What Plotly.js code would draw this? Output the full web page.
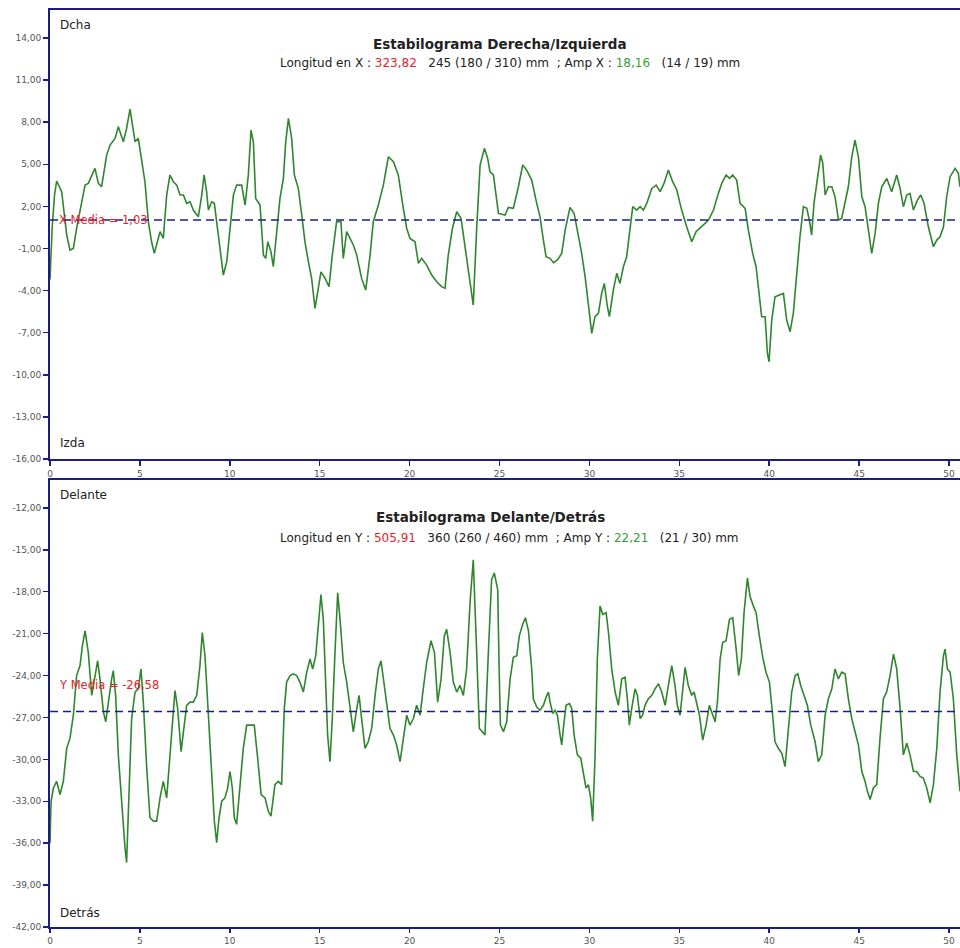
<!DOCTYPE html>
<html>
<head>
<meta charset="utf-8">
<script src="https://cdn.plot.ly/plotly-3.0.1.min.js"></script>
<style>
  html, body { margin: 0; padding: 0; background: #fff; }
  #chart { width: 960px; height: 948px; }
</style>
</head>
<body>
<div id="chart"></div>
<script>
// Stabilogram: lateral (X) and antero-posterior (Y) sway of the centre of pressure over time (s)

// X series (Derecha / Izquierda), mm
const tX = [
  0,0.12,0.25,0.37,0.65,0.93,1.11,1.30,1.48,1.67,
  1.95,2.13,2.32,2.50,2.69,2.87,3.15,3.34,3.62,3.80,
  4.08,4.26,4.45,4.64,4.73,4.91,5.10,5.28,5.47,5.65,
  5.80,5.93,6.12,6.30,6.49,6.67,6.86,7.05,7.23,7.42,
  7.60,7.79,7.97,8.25,8.44,8.57,8.71,8.81,8.99,9.14,
  9.27,9.46,9.64,9.83,10.01,10.20,10.38,10.66,10.85,11.03,
  11.18,11.31,11.44,11.68,11.87,12.00,12.11,12.29,12.42,12.61,
  12.79,12.98,13.11,13.26,13.44,13.59,13.81,14.00,14.18,14.37,
  14.55,14.74,14.92,15.07,15.30,15.52,15.70,15.94,16.18,16.31,
  16.50,16.69,16.87,17.06,17.33,17.56,17.80,17.98,18.26,18.54,
  18.82,19.10,19.37,19.65,19.84,20.02,20.30,20.49,20.67,20.95,
  21.23,21.51,21.78,21.97,22.15,22.38,22.62,22.86,23.04,23.23,
  23.54,23.73,23.92,24.16,24.34,24.47,24.66,24.94,25.21,
  25.31,25.49,25.77,26.05,26.29,26.51,26.79,27.07,27.25,27.44,
  27.59,27.81,28.00,28.22,28.46,28.65,28.92,29.15,29.33,29.57,
  29.76,29.94,30.13,30.31,30.50,30.68,30.83,31.00,31.11,31.33,
  31.52,31.70,31.89,32.07,32.26,32.41,32.63,32.82,33.00,33.19,
  33.47,33.71,33.93,34.15,34.39,34.63,34.86,35.13,35.41,35.69,
  35.93,36.15,36.43,36.62,36.90,37.17,37.36,37.60,37.79,37.97,
  38.19,38.38,38.66,38.84,39.08,39.27,39.45,39.58,39.77,39.90,
  39.99,40.14,40.32,40.60,40.79,40.97,41.16,41.34,41.53,41.71,
  41.90,42.09,42.23,42.36,42.49,42.68,42.86,42.98,43.11,43.29,
  43.48,43.66,43.85,44.03,44.22,44.40,44.59,44.77,44.96,45.15,
  45.33,45.52,45.70,45.89,46.07,46.26,46.54,46.81,47.09,47.28,
  47.46,47.65,47.83,48.02,48.24,48.43,48.61,48.85,49.13,49.32,
  49.50,49.69,49.87,50.06,50.34,50.52,50.61
];
const posX = [
  -3.2,0.5,2.8,3.81,3.05,-0.04,-1.11,-0.99,0.43,1.74,
  3.52,3.64,4.24,4.71,3.64,3.40,5.66,6.37,6.85,7.68,
  6.61,7.56,8.94,7.56,6.61,6.85,5.42,3.76,0.91,-0.52,
  -1.35,-0.75,0.20,-0.28,2.81,4.24,3.76,3.52,2.81,2.81,
  2.22,2.33,1.74,1.27,2.81,4.24,3.05,1.74,2.33,2.22,
  0.91,-0.99,-2.89,-1.94,0.43,2.81,3.52,3.52,2.10,4.24,
  7.44,6.61,2.57,2.10,-1.47,-1.70,-0.52,-1.23,-2.30,0.43,
  2.57,4.00,6.61,8.27,6.85,4.24,3.29,1.39,-0.52,-1.94,
  -3.13,-5.27,-3.84,-2.66,-3.13,-3.72,-1.47,0.91,0.91,-1.70,
  0.20,-0.28,-0.75,-1.47,-3.13,-3.96,-1.47,0.91,2.10,3.52,
  5.54,5.19,4.24,1.86,0.43,-0.28,-0.52,-2.06,-1.70,-2.18,
  -2.89,-3.37,-3.72,-3.84,-1.47,0.43,1.62,1.15,-0.52,-2.42,
  -5.03,0.43,4.95,6.14,5.42,4.47,4.24,1.50,1.39,
  1.38,1.93,1.86,3.40,4.95,4.59,3.88,2.22,1.27,-0.40,
  -1.59,-1.70,-2.01,-1.82,-1.35,0.31,1.93,1.50,0.31,-1.35,
  -3.01,-5.15,-7.05,-5.86,-5.62,-4.20,-3.49,-5.15,-5.86,-3.96,
  -2.77,-3.49,-2.30,-1.59,0.31,1.98,1.74,1.98,1.74,2.22,
  3.28,3.52,3.05,3.64,4.59,3.76,3.17,1.74,0.55,-0.52,
  0.20,0.43,0.79,1.03,1.74,2.93,3.64,4.24,4.00,4.24,
  3.88,2.22,1.86,0.31,-1.35,-2.30,-4.20,-5.86,-5.86,-8.48,
  -9.07,-6.10,-4.44,-4.32,-4.20,-6.10,-6.93,-5.62,-2.77,-0.16,
  1.98,1.86,1.03,-0.04,2.22,4.12,5.66,5.07,2.81,3.40,
  3.40,2.69,1.03,1.15,2.22,3.40,5.54,6.73,5.54,2.69,
  1.98,0.31,-1.35,0.08,2.22,3.40,3.99,3.05,4.24,3.28,
  1.98,2.81,2.93,1.74,2.45,2.81,2.22,0.55,-0.87,-0.40,
  -0.16,0.55,2.69,4.12,4.71,4.36,3.40
];

// Y series (Delante / Detrás), mm
const tY = [
  0,0.06,0.19,0.37,0.56,0.74,0.93,1.11,1.30,1.48,
  1.67,1.80,1.95,2.13,2.32,2.47,2.65,2.78,2.97,3.10,
  3.24,3.43,3.52,3.65,3.80,3.99,4.17,4.26,4.39,4.54,
  4.73,4.91,5.06,5.19,5.38,5.56,5.75,5.93,6.12,6.30,
  6.49,6.67,6.86,6.95,7.10,7.29,7.42,7.60,7.79,7.97,
  8.16,8.34,8.47,8.62,8.81,8.99,9.14,9.27,9.40,9.55,
  9.73,9.88,10.01,10.14,10.25,10.38,10.57,10.75,10.94,11.22,
  11.36,11.55,11.74,11.96,12.14,12.29,12.51,12.70,12.88,13.03,
  13.16,13.35,13.53,13.72,13.90,14.09,14.28,14.46,14.61,14.78,
  14.92,15.07,15.20,15.33,15.44,15.57,15.70,15.85,16.00,16.13,
  16.31,16.50,16.69,16.87,17.06,17.19,17.33,17.52,17.70,17.89,
  18.08,18.26,18.41,18.54,18.73,18.91,19.10,19.28,19.47,19.65,
  19.84,20.02,20.21,20.39,20.58,20.76,20.95,21.19,21.38,21.56,
  21.75,21.93,22.06,22.25,22.43,22.62,22.80,22.99,23.17,23.36,
  23.54,23.73,23.88,24.05,24.19,24.38,24.56,24.71,24.90,24.98,
  25.05,25.22,25.40,25.59,25.77,25.96,26.10,26.29,26.44,26.61,
  26.79,26.88,27.07,27.25,27.44,27.63,27.72,27.81,27.96,28.09,
  28.22,28.37,28.46,28.59,28.70,28.89,29.02,29.15,29.33,29.52,
  29.66,29.81,29.94,30.07,30.18,30.31,30.44,30.59,30.74,30.93,
  31.06,31.24,31.43,31.61,31.80,31.98,32.11,32.22,32.35,32.54,
  32.67,32.82,32.96,33.09,33.28,33.47,33.65,33.84,34.02,34.21,
  34.39,34.58,34.76,34.89,35.04,35.19,35.32,35.50,35.69,35.82,
  35.97,36.12,36.30,36.49,36.67,36.86,36.99,37.12,37.27,37.41,
  37.60,37.79,37.97,38.16,38.30,38.45,38.60,38.79,38.93,39.12,
  39.27,39.45,39.64,39.82,40.01,40.19,40.32,40.51,40.70,40.88,
  41.07,41.25,41.44,41.59,41.75,41.94,42.12,42.31,42.55,42.73,
  42.92,43.11,43.29,43.48,43.66,43.85,44.03,44.22,44.40,44.59,
  44.77,44.96,45.15,45.33,45.46,45.61,45.79,45.98,46.16,46.35,
  46.53,46.72,46.91,47.09,47.28,47.46,47.65,47.83,48.02,48.20,
  48.39,48.57,48.76,48.95,49.13,49.32,49.50,49.69,49.78,49.91,
  50.06,50.24,50.43,50.61
];
const posY = [
  -36.0,-33.00,-32.05,-31.58,-32.52,-31.58,-29.21,-28.50,-26.84,-24.00,
  -23.29,-21.87,-20.80,-22.34,-25.42,-24.24,-22.94,-24.24,-26.60,-27.31,
  -25.90,-24.24,-23.65,-25.42,-29.68,-33.47,-36.31,-37.38,-32.99,-27.08,
  -25.18,-24.95,-23.53,-25.90,-30.63,-34.18,-34.42,-34.42,-32.76,-31.58,
  -32.76,-29.68,-25.90,-25.07,-26.37,-29.45,-28.03,-26.13,-25.90,-25.90,
  -25.42,-23.29,-20.92,-22.58,-26.84,-31.10,-34.42,-35.96,-34.18,-32.99,
  -32.76,-32.05,-30.87,-32.05,-34.18,-34.65,-31.81,-29.21,-27.55,-27.55,
  -27.55,-29.92,-32.52,-32.76,-33.71,-34.06,-31.81,-31.58,-31.81,-26.37,
  -24.47,-24.00,-23.88,-24.00,-24.47,-25.18,-23.76,-22.82,-23.53,-22.58,
  -20.45,-18.20,-19.98,-24.71,-28.26,-30.16,-27.08,-22.34,-18.08,-19.98,
  -23.05,-24.47,-26.13,-28.03,-26.37,-25.42,-27.08,-29.21,-28.74,-27.79,
  -25.42,-23.53,-22.94,-24.24,-26.37,-27.79,-28.26,-28.97,-30.16,-28.50,
  -26.84,-27.55,-27.08,-26.13,-26.84,-24.95,-23.05,-21.51,-22.34,-25.90,
  -24.24,-21.16,-20.69,-22.34,-24.47,-25.18,-24.71,-25.42,-23.53,-18.79,
  -15.71,-22.34,-27.79,-28.03,-28.26,-22.34,-17.14,-16.66,-17.85,-23.53,
  -27.55,-28.02,-27.31,-24.24,-22.70,-22.58,-21.16,-20.33,-19.86,-20.80,
  -23.53,-25.66,-26.25,-26.49,-26.13,-25.42,-25.18,-25.89,-26.72,-26.49,
  -26.84,-28.26,-28.97,-27.31,-26.13,-26.01,-26.37,-28.26,-29.68,-29.92,
  -31.10,-32.05,-31.81,-32.76,-34.42,-29.92,-22.82,-19.03,-19.62,-19.50,
  -20.92,-23.53,-25.18,-26.13,-24.24,-24.12,-25.66,-27.55,-26.37,-24.95,
  -25.42,-27.08,-26.84,-26.13,-25.66,-25.42,-24.95,-24.59,-25.18,-26.13,
  -24.71,-23.29,-24.71,-26.13,-26.84,-24.71,-23.41,-24.71,-25.42,-25.18,
  -26.13,-26.84,-28.62,-27.55,-26.13,-26.84,-27.31,-25.89,-22.82,-21.63,
  -21.51,-19.98,-19.86,-22.11,-24.00,-22.82,-19.50,-17.02,-18.32,-19.03,
  -19.50,-21.16,-22.70,-23.76,-24.47,-26.84,-28.74,-29.21,-29.56,-30.51,
  -27.55,-25.18,-24.00,-23.88,-24.71,-25.42,-26.13,-27.55,-28.74,-30.16,
  -29.68,-26.84,-25.66,-24.95,-23.53,-24.24,-23.76,-23.88,-25.66,-27.08,
  -28.02,-28.97,-30.87,-31.58,-32.29,-32.88,-32.05,-31.81,-28.50,-25.66,
  -25.18,-24.00,-22.46,-23.53,-26.37,-29.68,-28.85,-29.68,-30.87,-30.87,
  -31.22,-31.34,-32.05,-33.11,-31.81,-29.21,-25.18,-22.58,-22.11,-23.53,
  -23.76,-25.66,-29.68,-32.29
];

// Mean positions
const xMedia = 1.03;
const yMedia = -26.58;

// Axis ticks
const timeTicks = [0, 5, 10, 15, 20, 25, 30, 35, 40, 45, 50];
const xPosTicks = [-16, -13, -10, -7, -4, -1, 2, 5, 8, 11, 14];
const yPosTicks = [-42, -39, -36, -33, -30, -27, -24, -21, -18, -15, -12];

// Summary texts
const xSummary = { longitud: '323,82', ref: '245 (180 / 310) mm', amp: '18,16', ampRef: '(14 / 19) mm' };
const ySummary = { longitud: '505,91', ref: '360 (260 / 460) mm', amp: '22,21', ampRef: '(21 / 30) mm' };

if (tX.length !== posX.length || tY.length !== posY.length) {
  console.warn('series length mismatch', tX.length, posX.length, tY.length, posY.length);
}

const fmt = v => v.toFixed(2).replace('.', ',');
const tMax = 50.61;

const NAVY = '#1c1c86';
const GREEN = '#2f862f';
const RED = '#e3242b';
const NB = '\u00a0';

const axisBase = {
  showline: true, linecolor: NAVY, linewidth: 2,
  ticks: 'outside', ticklen: 5, tickwidth: 1.5, tickcolor: NAVY,
  showgrid: false, zeroline: false, fixedrange: true,
  tickfont: { family: 'DejaVu Sans, sans-serif', size: 9, color: '#555' }
};

const traces = [
  { x: tX, y: posX, xaxis: 'x', yaxis: 'y', type: 'scatter', mode: 'lines',
    line: { color: GREEN, width: 1.6 }, hoverinfo: 'skip' },
  { x: [0, tMax], y: [xMedia, xMedia], xaxis: 'x', yaxis: 'y', type: 'scatter', mode: 'lines',
    line: { color: NAVY, width: 1.5, dash: '8px,5px' }, hoverinfo: 'skip' },
  { x: tY, y: posY, xaxis: 'x2', yaxis: 'y2', type: 'scatter', mode: 'lines',
    line: { color: GREEN, width: 1.6 }, hoverinfo: 'skip' },
  { x: [0, tMax], y: [yMedia, yMedia], xaxis: 'x2', yaxis: 'y2', type: 'scatter', mode: 'lines',
    line: { color: NAVY, width: 1.5, dash: '8px,5px' }, hoverinfo: 'skip' }
];

function summary(axisName, s) {
  return 'Longitud en ' + axisName + ' : <span style="color:' + RED + '">' + s.longitud + '</span>' +
    NB + NB + NB + s.ref + NB + NB + '; Amp ' + axisName + ' : <span style="color:#35a035">' + s.amp + '</span>' +
    NB + NB + NB + s.ampRef;
}

const txt = (text, x, y, size, extra) => Object.assign({
  text: text, xref: 'paper', yref: 'paper', x: x, y: y, showarrow: false,
  xanchor: 'left', yanchor: 'middle',
  font: { family: 'DejaVu Sans, sans-serif', size: size, color: '#222' }
}, extra || {});

const annotations = [
  txt('<b>Estabilograma Derecha/Izquierda</b>', 0.4945, 0.963, 13.5, { xanchor: 'center' }),
  txt(summary('X', xSummary), 0.505, 0.942, 12, { xanchor: 'center' }),
  txt('<b>Estabilograma Delante/Detrás</b>', 0.484, 0.447, 13.5, { xanchor: 'center' }),
  txt(summary('Y', ySummary), 0.505, 0.424, 12, { xanchor: 'center' }),
  txt('Dcha', 0.009, 0.9836, 12),
  txt('Izda', 0.009, 0.5278, 12),
  txt('Delante', 0.009, 0.4711, 12),
  txt('Detrás', 0.009, 0.0153, 12),
  { text: 'X Media = ' + fmt(xMedia), xref: 'x', yref: 'y', x: 0.4, y: xMedia,
    xanchor: 'left', yanchor: 'middle', showarrow: false,
    font: { family: 'DejaVu Sans, sans-serif', size: 11.5, color: RED } },
  { text: 'Y Media = ' + fmt(yMedia), xref: 'x2', yref: 'y2', x: 0.4, y: yMedia, yshift: 27,
    xanchor: 'left', yanchor: 'middle', showarrow: false,
    font: { family: 'DejaVu Sans, sans-serif', size: 11.5, color: RED } }
];

const layout = {
  width: 960, height: 948,
  margin: { l: 50, r: 0, t: 10, b: 21 },
  paper_bgcolor: '#ffffff', plot_bgcolor: '#ffffff',
  showlegend: false,
  font: { family: 'DejaVu Sans, sans-serif', size: 9, color: '#444' },
  xaxis: Object.assign({}, axisBase, { domain: [0, 1], anchor: 'y', range: [0, tMax], mirror: true,
    tickvals: timeTicks, ticktext: timeTicks.map(String) }),
  yaxis: Object.assign({}, axisBase, { domain: [0.5104, 1], anchor: 'x', range: [-16, 16],
    tickvals: xPosTicks, ticktext: xPosTicks.map(fmt) }),
  xaxis2: Object.assign({}, axisBase, { domain: [0, 1], anchor: 'y2', range: [0, tMax], mirror: true,
    ticklen: 4, tickvals: timeTicks, ticktext: timeTicks.map(String) }),
  yaxis2: Object.assign({}, axisBase, { domain: [0, 0.4875], anchor: 'x2', range: [-42, -10],
    tickvals: yPosTicks, ticktext: yPosTicks.map(fmt) }),
  annotations: annotations
};

Plotly.newPlot('chart', traces, layout, { staticPlot: true, displayModeBar: false });
</script>
</body>
</html>
